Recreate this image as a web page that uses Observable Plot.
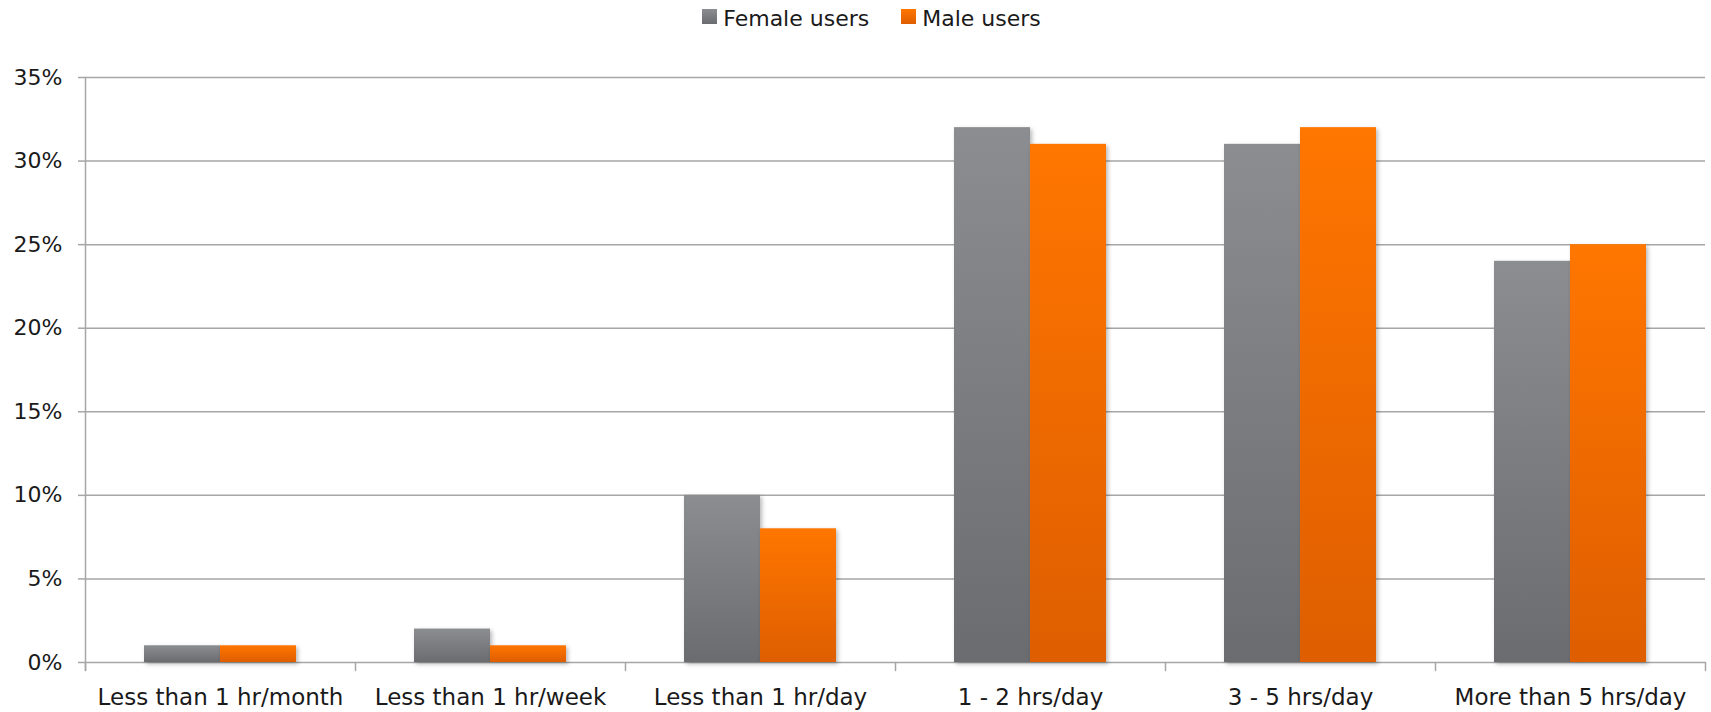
<!DOCTYPE html>
<html><head><meta charset="utf-8">
<script src="https://cdn.jsdelivr.net/npm/d3@7"></script>
<script src="https://cdn.jsdelivr.net/npm/@observablehq/plot@0.6"></script>
<style>
body{margin:0;background:#fff;font-family:"DejaVu Sans",sans-serif;color:#1a1a1a;overflow:hidden;}
#legend{height:40px;box-sizing:border-box;padding-top:6px;padding-left:32px;display:flex;justify-content:center;font-size:22px;line-height:26px;}
.item{display:flex;align-items:flex-start;margin:0 16px;}
.sw{width:15px;height:15px;margin-top:3px;margin-right:6px;}
</style></head><body>
<svg width="0" height="0" style="position:absolute">
<defs>
<linearGradient id="gradFemale" x1="0" y1="0" x2="0" y2="1"><stop offset="0" stop-color="#8b8d91"/><stop offset="1" stop-color="#6b6c70"/></linearGradient>
<linearGradient id="gradMale" x1="0" y1="0" x2="0" y2="1"><stop offset="0" stop-color="#ff7600"/><stop offset="1" stop-color="#de5e00"/></linearGradient>
</defs></svg>
<div id="legend"></div>
<div id="chart"></div>
<script>
const categories = ["Less than 1 hr/month", "Less than 1 hr/week", "Less than 1 hr/day", "1 - 2 hrs/day", "3 - 5 hrs/day", "More than 5 hrs/day"];
const seriesNames = ["Female users", "Male users"];
const femaleValues = [1, 2, 10, 32, 31, 24];
const maleValues = [1, 1, 8, 31, 32, 25];
const yTicks = [0, 5, 10, 15, 20, 25, 30, 35];

const gradients = {"Female users": "url(#gradFemale)", "Male users": "url(#gradMale)"};
const swatchCss = {"Female users": "linear-gradient(#8b8d91,#6b6c70)", "Male users": "linear-gradient(#ff7600,#de5e00)"};

const rows = categories.flatMap((c, i) => [
  {category: c, series: seriesNames[0], value: femaleValues[i]},
  {category: c, series: seriesNames[1], value: maleValues[i]}
]);

// legend
const legend = document.getElementById("legend");
for (const s of seriesNames) {
  const it = document.createElement("div");
  it.className = "item";
  const sw = document.createElement("div");
  sw.className = "sw";
  sw.style.background = swatchCss[s];
  const tx = document.createElement("span");
  tx.textContent = s;
  it.append(sw, tx);
  legend.append(it);
}

const W = 1711, H = 672, mt = 37, mb = 50;
const plotH = H - mt - mb;
const gridColor = "#a6a6a6";
const tickShape = {draw(context, l) { context.moveTo(0, 0); context.lineTo(0, -l); }};
const shadow = "drop-shadow(2px 2px 2px rgba(0,0,0,0.28))";

const chart = Plot.plot({
  width: W, height: H, marginTop: mt, marginBottom: mb, marginLeft: 83, marginRight: 5,
  style: {fontFamily: "DejaVu Sans", fontSize: "22px", color: "#1a1a1a", background: "white"},
  fx: {domain: categories, padding: 0, label: null},
  x: {domain: seriesNames, paddingInner: 0, paddingOuter: 0.756, axis: null},
  y: {domain: [0, 35], label: null},
  marks: [
    Plot.gridY(yTicks, {stroke: gridColor, strokeOpacity: 1, strokeWidth: 1.5}),
    Plot.axisY(yTicks, {tickFormat: d => d + "%", tickSize: 7, tickPadding: 16, stroke: gridColor, strokeWidth: 1.5, fill: "#1a1a1a", label: null}),
    Plot.axisFx({anchor: "bottom", tickSize: 0, tickPadding: 26, label: null, fill: "#1a1a1a", fontSize: 23}),
    Plot.barY(rows.filter(d => d.series === seriesNames[0]), {fx: "category", x: "series", y: "value", fill: gradients[seriesNames[0]], imageFilter: shadow}),
    Plot.barY(rows.filter(d => d.series === seriesNames[1]), {fx: "category", x: "series", y: "value", fill: gradients[seriesNames[1]], imageFilter: shadow}),
    Plot.vector([categories[0]], {fx: d => d, frameAnchor: "top-left", rotate: 180, length: plotH + 8, anchor: "start", shape: tickShape, stroke: gridColor, strokeWidth: 1.5}),
    Plot.vector(categories, {fx: d => d, frameAnchor: "bottom-left", rotate: 180, length: 8, anchor: "start", shape: tickShape, stroke: gridColor, strokeWidth: 1.5}),
    Plot.vector([categories[categories.length - 1]], {fx: d => d, frameAnchor: "bottom-right", rotate: 180, length: 8, anchor: "start", shape: tickShape, stroke: gridColor, strokeWidth: 1.5})
  ]
});
document.getElementById("chart").append(chart);
</script>
</body></html>
